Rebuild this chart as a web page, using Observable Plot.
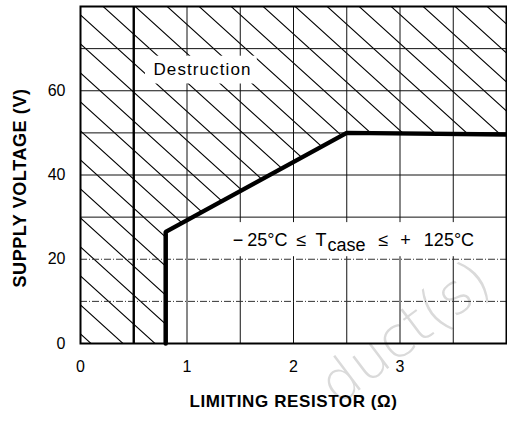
<!DOCTYPE html>
<html><head><meta charset="utf-8">
<script src="https://cdn.jsdelivr.net/npm/d3@7"></script>
<script src="https://cdn.jsdelivr.net/npm/@observablehq/plot@0.6"></script>
<style>body{margin:0;background:#fff}</style>
</head><body><div id="chart"></div>
<script>
// ---- data ----
const boundaryX = [0, 0.8, 0.8, 2.5, 4];
const boundaryY = [0, 0, 26.5, 50, 49.6];
const xDomain = [0, 4];
const yDomain = [0, 80];
const xTicks = [0, 1, 2, 3];
const yTicks = [0, 20, 40, 60];
const gridX = [1, 1.5, 2, 2.5, 3, 3.5];
const gridXHeavy = [0.5];
const gridYSolid = [30, 40, 50, 60, 70];
const gridYDashed = [10, 20];
const destructionText = ["Destruction"];
const destructionPos = [{x: 0.685, y: 65.0}];
const destructionBox = [{x1: 0.61, x2: 1.66, y1: 61.6, y2: 68.2}];
const tempPieces = ["−", "25°C", "≤", "T", "case", "≤", "+", "125°C"];
const tempPos = [{x: 1.43, y: 24.4}];
const tempBox = [{x1: 1.39, x2: 3.94, y1: 20.6, y2: 28.7}];
const xTitle = ["LIMITING RESISTOR (Ω)"];
const yTitle = ["SUPPLY VOLTAGE (V)"];
const watermark = [{x: 3.05, y: 2.5, t: "duct(s)"}];

// ---- derived tables ----
const boundary = boundaryX.map((x, i) => ({x, y: boundaryY[i]}));
const boundaryLine = boundary.slice(1);
const tempText = tempPieces.join(" ");
const tempGaps = [0, 4, 9, 9, 3, 13, 12, 13];
const subIndex = 4;

const FONT = "'Liberation Sans', Arial, Helvetica, sans-serif";

const svg = Plot.plot({
  width: 507,
  height: 428,
  marginLeft: 80,
  marginRight: 1,
  marginTop: 6,
  marginBottom: 85,
  style: {fontFamily: FONT, fontSize: "16px", color: "#000", background: "#fff"},
  x: {domain: xDomain, ticks: xTicks, tickSize: 0, tickPadding: 17, label: null, tickFormat: d => String(d)},
  y: {domain: yDomain, ticks: yTicks, tickSize: 0, tickPadding: 15, label: null, tickFormat: d => String(d)},
  marks: [
    Plot.text(watermark, {x: "x", y: "y", text: "t", rotate: -37, fontSize: 56, fill: "#dadada", fontFamily: "'DejaVu Sans'", fontWeight: 200}),
    Plot.areaY(boundary, {x: "x", y1: "y", y2: () => yDomain[1], fill: "url(#hatch)"}),
    Plot.ruleX(gridX, {stroke: "#111", strokeWidth: 1}),
    Plot.ruleY(gridYSolid, {stroke: "#111", strokeWidth: 1}),
    Plot.ruleY(gridYDashed, {stroke: "#333", strokeWidth: 1, strokeDasharray: "7,2,1,2"}),
    Plot.ruleX(gridXHeavy, {stroke: "#000", strokeWidth: 2.4}),
    Plot.rect(destructionBox, {x1: "x1", x2: "x2", y1: "y1", y2: "y2", fill: "#fff"}),
    Plot.rect(tempBox, {x1: "x1", x2: "x2", y1: "y1", y2: "y2", fill: "#fff"}),
    Plot.line(boundaryLine, {x: "x", y: "y", stroke: "#000", strokeWidth: 4.5, strokeLinejoin: "miter"}),
    Plot.frame({stroke: "#000", strokeWidth: 2}),
    Plot.text(destructionPos, {x: "x", y: "y", text: () => destructionText[0], textAnchor: "start", fontSize: 17, fill: "#000"}),
    Plot.text(tempPos, {x: "x", y: "y", text: () => tempText, textAnchor: "start", fontSize: 18, fill: "#000"}),
    Plot.text(xTitle, {frameAnchor: "bottom", lineAnchor: "middle", textAnchor: "middle", dy: 58, text: d => d, fontSize: 17, fontWeight: "bold", fill: "#000"}),
    Plot.text(yTitle, {frameAnchor: "left", lineAnchor: "middle", textAnchor: "middle", dx: -60, dy: 13, rotate: -90, text: d => d, fontSize: 18, fontWeight: "bold", fill: "#000"})
  ]
});

// hatch pattern
const ns = "http://www.w3.org/2000/svg";
const defs = document.createElementNS(ns, "defs");
defs.innerHTML = '<pattern id="hatch" patternUnits="userSpaceOnUse" width="32" height="29">' +
  '<path d="M-32,-29L64,58M0,-29L96,58M-64,-29L32,58" stroke="#000" stroke-width="1.1" fill="none"/></pattern>';
svg.insertBefore(defs, svg.firstChild);

// letter spacing + subscript label
svg.querySelectorAll("text").forEach(t => {
  if (t.textContent === destructionText[0]) t.style.letterSpacing = "1.1px";
  if (t.textContent === tempText) {
    t.textContent = "";
    tempPieces.forEach((p, i) => {
      const s = document.createElementNS(ns, "tspan");
      s.textContent = p;
      s.setAttribute("dx", tempGaps[i]);
      if (i === subIndex) s.setAttribute("dy", 5);
      if (i === subIndex + 1) s.setAttribute("dy", -5);
      t.appendChild(s);
    });
  }
  if (t.textContent === xTitle[0] || t.textContent === yTitle[0]) t.style.letterSpacing = "0.6px";
});

document.getElementById("chart").appendChild(svg);
</script>
</body></html>
